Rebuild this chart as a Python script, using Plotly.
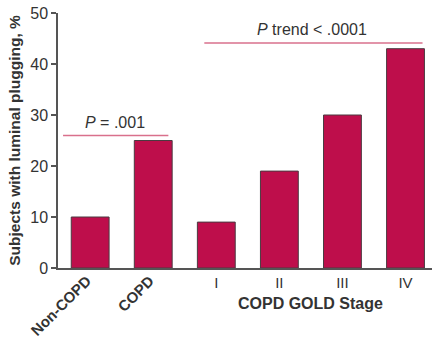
import plotly.graph_objects as go

categories = ["Non-COPD", "COPD", "I", "II", "III", "IV"]
values = [10, 25, 9, 19, 30, 43]
rotated_labels = ["Non-COPD", "COPD"]
stage_labels = ["I", "II", "III", "IV"]
y_ticks = [0, 10, 20, 30, 40, 50]
p_text_1 = "<i>P</i> = .001"
p_text_2 = "<i>P</i> trend < .0001"

BAR = "#BE0E4B"
LINE = "#D9708C"
TXT = "#333333"
FONT = "Liberation Sans, Arial, sans-serif"

x_idx = list(range(len(categories)))

fig = go.Figure()
fig.add_trace(go.Bar(
    x=x_idx, y=values, width=0.6,
    marker=dict(color=BAR, line=dict(color="#4a3a40", width=1)),
    hoverinfo="skip",
))

fig.update_layout(
    width=436, height=340,
    margin=dict(l=58, r=4, t=13, b=72),
    paper_bgcolor="white", plot_bgcolor="white",
    showlegend=False,
    font=dict(family=FONT, color=TXT, size=15),
    bargap=0.4,
)

fig.update_xaxes(
    range=[-0.51, 5.42],
    tickvals=x_idx[2:], ticktext=stage_labels,
    tickangle=0, ticks="", showgrid=False, zeroline=False,
    showline=True, linecolor="#555555", linewidth=1.5,
    tickfont=dict(size=15, color=TXT, family=FONT),
    ticklabelstandoff=0,
)
fig.update_yaxes(
    range=[0, 50], tickvals=y_ticks,
    ticks="outside", ticklen=5, tickcolor="#555555", tickwidth=1.5,
    showline=True, linecolor="#555555", linewidth=1.5,
    showgrid=False, zeroline=False,
    tickfont=dict(size=16, color=TXT, family=FONT),
)

# Rotated group labels
for i, lab in enumerate(rotated_labels):
    fig.add_annotation(
        x=x_idx[i], y=0, xref="x", yref="y", text=f"<b>{lab}</b>",
        textangle=-45, showarrow=False, xanchor="right", yanchor="top",
        xshift=7, yshift=-1, font=dict(size=15, color=TXT, family=FONT),
    )

# X axis title for GOLD stages
fig.add_annotation(
    x=3.5, y=-0.14, xref="x", yref="paper", text="<b>COPD GOLD Stage</b>",
    showarrow=False, xanchor="center", yanchor="middle",
    font=dict(size=16, color=TXT, family=FONT),
)

# Y axis title
fig.add_annotation(
    x=-0.117, y=0.5, xref="paper", yref="paper",
    text="<b>Subjects with luminal plugging, %</b>",
    textangle=-90, showarrow=False, xanchor="center", yanchor="middle",
    font=dict(size=15.5, color=TXT, family=FONT),
)

# Significance brackets
fig.add_shape(type="line", xref="x", yref="y", x0=-0.43, x1=1.24, y0=26, y1=26,
              line=dict(color=LINE, width=1.5))
fig.add_annotation(x=0.4, y=28.6, xref="x", yref="y", text=p_text_1, showarrow=False,
                   font=dict(size=16, color=TXT, family=FONT))
fig.add_shape(type="line", xref="x", yref="y", x0=1.81, x1=5.27, y0=44.1, y1=44.1,
              line=dict(color=LINE, width=1.5))
fig.add_annotation(x=3.52, y=46.8, xref="x", yref="y", text=p_text_2, showarrow=False,
                   font=dict(size=16, color=TXT, family=FONT))

fig.write_html("out.html", config={"displayModeBar": False},
               post_script="document.body.style.margin='0';document.body.style.padding='0';")
